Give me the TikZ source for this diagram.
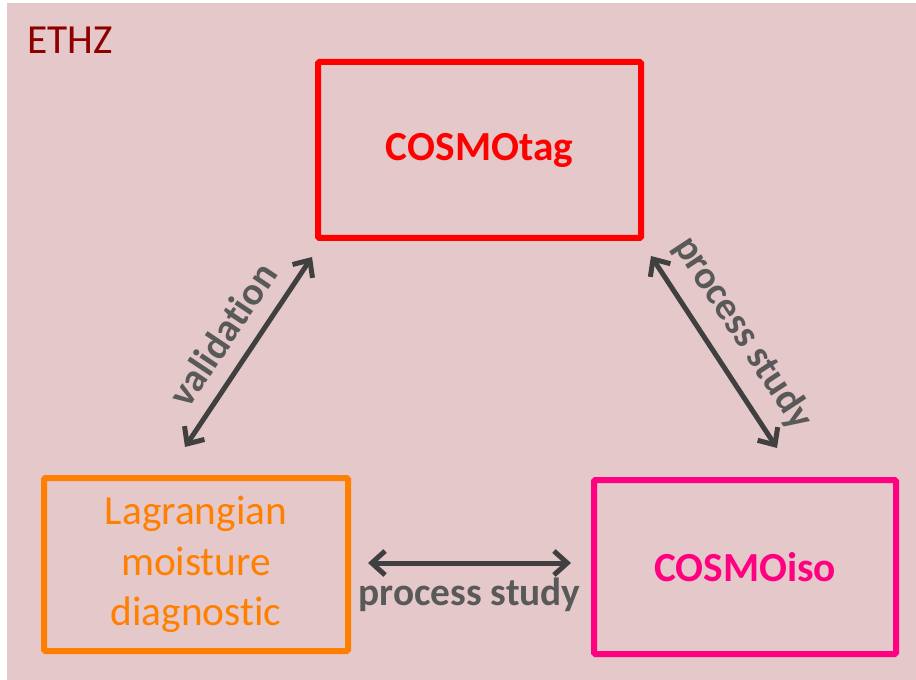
\documentclass[tikz,border=0pt]{standalone}
\usepackage{fontspec}
\setmainfont[Ligatures={NoCommon}]{Carlito}
\usepackage{xcolor}
\usetikzlibrary{arrows.meta,positioning}
\definecolor{bgpink}{HTML}{E5C8C9}
\definecolor{tagred}{HTML}{FF0000}
\definecolor{lagorange}{HTML}{FF8000}
\definecolor{isopink}{HTML}{FF0080}
\definecolor{ethzred}{HTML}{8E0000}
\definecolor{arrowgrey}{HTML}{404040}
\definecolor{labelgrey}{HTML}{595959}

\begin{document}
\begin{tikzpicture}[
x=0.75pt, y=-0.75pt,
model/.style={
rectangle,
draw,
line width=4.5pt,
rounded corners=1pt,
align=center,
font=\fontsize{31}{38}\selectfont
},
link/.style={{Straight Barb[length=10pt,width=18pt]}-{Straight Barb[length=10pt,width=18pt]},line width=3.75pt,line cap=round,draw=arrowgrey},
linklabel/.style={font=\fontsize{29.5}{34}\selectfont\bfseries,text=labelgrey}
]

\fill[white] (0,0) rectangle (916,680);
\fill[bgpink] (7,3) rectangle (916,680);

\node[anchor=base west, inner sep=0pt, text=ethzred, font=\fontsize{31}{35}\selectfont] (ethz) at (27,54) {ETHZ};

\node[model, draw=tagred, text=tagred, font=\fontsize{31}{37.5}\selectfont\bfseries,
minimum width=242.25pt, minimum height=132pt] (tag) at (479.5,150) {COSMOtag};
\node[model, draw=lagorange, text=lagorange,
minimum width=228pt, minimum height=129.75pt] (lagr) at (196,564.5) {Lagrangian\\moisture\\diagnostic};
\node[model, draw=isopink, text=isopink, font=\fontsize{31}{37.5}\selectfont\bfseries,
minimum width=226.5pt, minimum height=130.5pt] (iso) at (745,567) {COSMOiso};

\coordinate (valA) at (185,447);
\coordinate (valB) at (312,257);
\coordinate (procA) at (651,256);
\coordinate (procB) at (777,448);
\coordinate (lowA) at (368,563);
\coordinate (lowB) at (571,563);

\draw[link] (valA) -- node[linklabel, sloped, above=8pt] {validation} (valB);
\draw[link] (procA) -- node[linklabel, sloped, above=8pt] {process study} (procB);
\draw[link] (lowA) -- node[linklabel, below=6pt] {process study} (lowB);

\end{tikzpicture}
\end{document}
